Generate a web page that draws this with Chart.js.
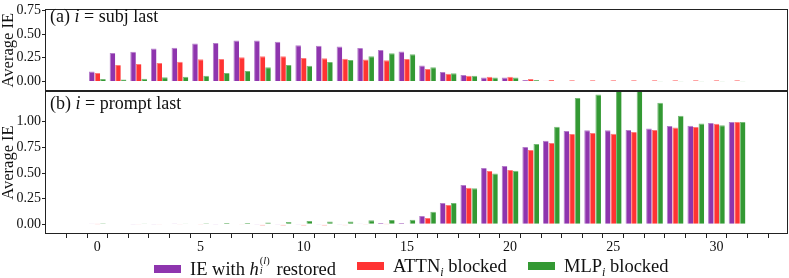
<!DOCTYPE html>
<html>
<head>
<meta charset="utf-8">
<script src="https://cdn.jsdelivr.net/npm/chart.js@4/dist/chart.umd.min.js"></script>
<style>
  html, body { margin: 0; padding: 0; background: #fff; }
  #wrap { position: relative; width: 789px; height: 278px; font-family: 'Liberation Serif', 'Times New Roman', serif; color: #111; }
  #wrap canvas { position: absolute; left: 0; top: 0; }
  .item { position: absolute; top: 256px; height: 20px; line-height: 20px; font-size: 18.5px; white-space: nowrap; }
  .sw { display: inline-block; width: 27px; height: 8px; vertical-align: 2px; margin-right: 9px; }
  .stack { display: inline-block; position: relative; width: 13px; height: 18.5px; }
  .stack span { position: absolute; left: 1px; font-size: 10.5px; line-height: 1; }
  .sub { font-size: 12px; vertical-align: -4px; font-style: italic; }
</style>
</head>
<body>
<div id="wrap">
  <canvas id="subjChart" width="789" height="278"></canvas>
  <canvas id="promptChart" width="789" height="278"></canvas>
  <div class="item" style="left:154px"><span class="sw" style="background:#8E35AE"></span>IE with <i>h</i><span class="stack"><span style="top:0">(<i>l</i>)</span><span style="top:9.5px"><i>i</i></span></span> restored</div>
  <div class="item" style="left:357px"><span class="sw" style="background:#FF3333"></span>ATTN<span class="sub">i</span> blocked</div>
  <div class="item" style="left:528px"><span class="sw" style="background:#339933"></span>MLP<span class="sub">i</span> blocked</div>
</div>
<script>
// layer index on the x axis
const layers = [0,1,2,3,4,5,6,7,8,9,10,11,12,13,14,15,16,17,18,19,20,21,22,23,24,25,26,27,28,29,30,31];

// (a) i = subj last
const subjIE   = [0.106,0.300,0.314,0.347,0.356,0.400,0.406,0.432,0.432,0.419,0.383,0.378,0.370,0.353,0.333,0.317,0.168,0.099,0.069,0.043,0.043,0.017,0.007,0.006,0.006,0.006,0.006,0.005,0.005,0.005,0.005,0.005];
const subjAttn = [0.089,0.175,0.185,0.195,0.208,0.234,0.238,0.257,0.267,0.267,0.248,0.244,0.241,0.231,0.224,0.236,0.132,0.083,0.060,0.050,0.050,0.026,0.016,0.014,0.014,0.014,0.014,0.014,0.014,0.014,0.014,0.014];
const subjMlp  = [0.026,0.020,0.030,0.046,0.050,0.060,0.089,0.112,0.149,0.175,0.165,0.205,0.228,0.267,0.297,0.287,0.150,0.088,0.062,0.043,0.043,0.017,0.006,0.005,0.005,0.005,0.005,0.004,0.004,0.004,0.004,0.004];

// (b) i = prompt last
const promptIE   = [0.002,0.004,-0.002,-0.002,0.003,0.000,-0.002,0.000,-0.006,-0.006,-0.006,-0.006,-0.006,0.002,0.013,0.013,0.081,0.208,0.383,0.549,0.569,0.754,0.815,0.910,0.916,0.916,0.919,0.935,0.958,0.962,0.988,0.997];
const promptAttn = [0.001,0.000,-0.003,-0.003,-0.003,-0.002,-0.004,-0.008,-0.012,-0.012,-0.013,-0.012,-0.010,-0.002,0.001,0.006,0.062,0.188,0.357,0.520,0.530,0.724,0.793,0.880,0.890,0.884,0.900,0.919,0.945,0.948,0.981,0.997];
const promptMlp  = [0.010,0.006,0.003,0.004,0.007,0.010,0.013,0.013,0.016,0.023,0.032,0.026,0.026,0.039,0.042,0.045,0.123,0.208,0.351,0.494,0.523,0.783,0.952,1.231,1.267,1.380,1.360,1.186,1.059,0.984,0.965,0.997];

// ticks
const xMajorTicks = [0,5,10,15,20,25,30];
const xMinorTicks = [-1].concat(layers, [32]);
const yTicksSubj = [0, 0.25, 0.5, 0.75];
const yTicksPrompt = [0, 0.25, 0.5, 0.75, 1.0];

const SERIF = "'Liberation Serif', 'Times New Roman', serif";
const INK = '#111';
const colors = {
  ie:   { fill: '#8E35AE', edge: '#B57FCB' },
  attn: { fill: '#FF3333', edge: '#FF7A7A' },
  mlp:  { fill: '#339933', edge: '#75BA75' }
};

function pts(vals) { return layers.map((l, i) => ({ x: l, y: vals[i] })); }

function datasets(ie, attn, mlp) {
  return [
    { label: 'IE', data: pts(ie), backgroundColor: colors.ie.fill, borderColor: colors.ie.edge },
    { label: 'ATTN', data: pts(attn), backgroundColor: colors.attn.fill, borderColor: colors.attn.edge },
    { label: 'MLP', data: pts(mlp), backgroundColor: colors.mlp.fill, borderColor: colors.mlp.edge }
  ].map(d => Object.assign(d, { borderWidth: { top: 1, left: 1, right: 0, bottom: 0 }, borderSkipped: false, categoryPercentage: 0.81, barPercentage: 1.0 }));
}

// frame round the plot + panel title with italic i
const framePlugin = {
  id: 'frame',
  afterDraw(chart, args, opts) {
    const { ctx, chartArea: a } = chart;
    ctx.save();
    ctx.strokeStyle = '#222';
    ctx.lineWidth = 1;
    ctx.strokeRect(Math.round(a.left) - 0.5, Math.round(a.top) + 0.5, Math.round(a.right - a.left), Math.round(a.bottom - a.top) - 1);
    let x = opts.x;
    ctx.fillStyle = INK;
    ctx.textBaseline = 'alphabetic';
    for (const p of opts.parts) {
      ctx.font = (p.italic ? 'italic ' : '') + '18px ' + SERIF;
      ctx.fillText(p.text, x, opts.y);
      x += ctx.measureText(p.text).width;
    }
    ctx.restore();
  }
};

function makeChart(id, ds, yMin, yMax, yTicks, showX, pad, parts, labelY) {
  return new Chart(document.getElementById(id), {
    type: 'bar',
    data: { datasets: ds },
    plugins: [framePlugin],
    options: {
      responsive: false,
      animation: false,
      layout: { padding: pad },
      plugins: {
        legend: { display: false },
        tooltip: { enabled: false },
        frame: { parts, x: 50, y: labelY }
      },
      scales: {
        x: {
          type: 'linear',
          min: -1.96,
          max: 32.94,
          display: showX,
          afterBuildTicks: s => { s.ticks = xMinorTicks.map(v => ({ value: v })); },
          afterFit: s => { s.height = showX ? 44 : 0; },
          grid: { drawOnChartArea: false, drawTicks: true, tickLength: 4, color: '#222' },
          border: { display: false },
          ticks: {
            autoSkip: false, maxRotation: 0, padding: 2, color: INK,
            font: { family: SERIF, size: 14, lineHeight: 1 },
            callback: v => xMajorTicks.includes(v) ? String(v) : ''
          }
        },
        y: {
          min: yMin,
          max: yMax,
          afterBuildTicks: s => { s.ticks = yTicks.map(v => ({ value: v })); },
          afterFit: s => { s.width = 46; },
          grid: { drawOnChartArea: false, drawTicks: true, tickLength: 4, color: '#222' },
          border: { display: false },
          ticks: { autoSkip: false, padding: 1, color: INK, font: { family: SERIF, size: 14 }, callback: v => Number(v).toFixed(2) },
          title: { display: true, text: 'Average IE', color: INK, padding: 0, font: { family: SERIF, size: 16.5, lineHeight: 1 } }
        }
      }
    }
  });
}

makeChart('subjChart', datasets(subjIE, subjAttn, subjMlp), -0.1, 0.76, yTicksSubj, false,
  { top: 4, right: 1, bottom: 187, left: 0 },
  [{ text: '(a) ' }, { text: 'i', italic: true }, { text: ' = subj last' }], 21.5);

makeChart('promptChart', datasets(promptIE, promptAttn, promptMlp), -0.095, 1.3, yTicksPrompt, true,
  { top: 91, right: 1, bottom: 0, left: 0 },
  [{ text: '(b) ' }, { text: 'i', italic: true }, { text: ' = prompt last' }], 109);
</script>
</body>
</html>
